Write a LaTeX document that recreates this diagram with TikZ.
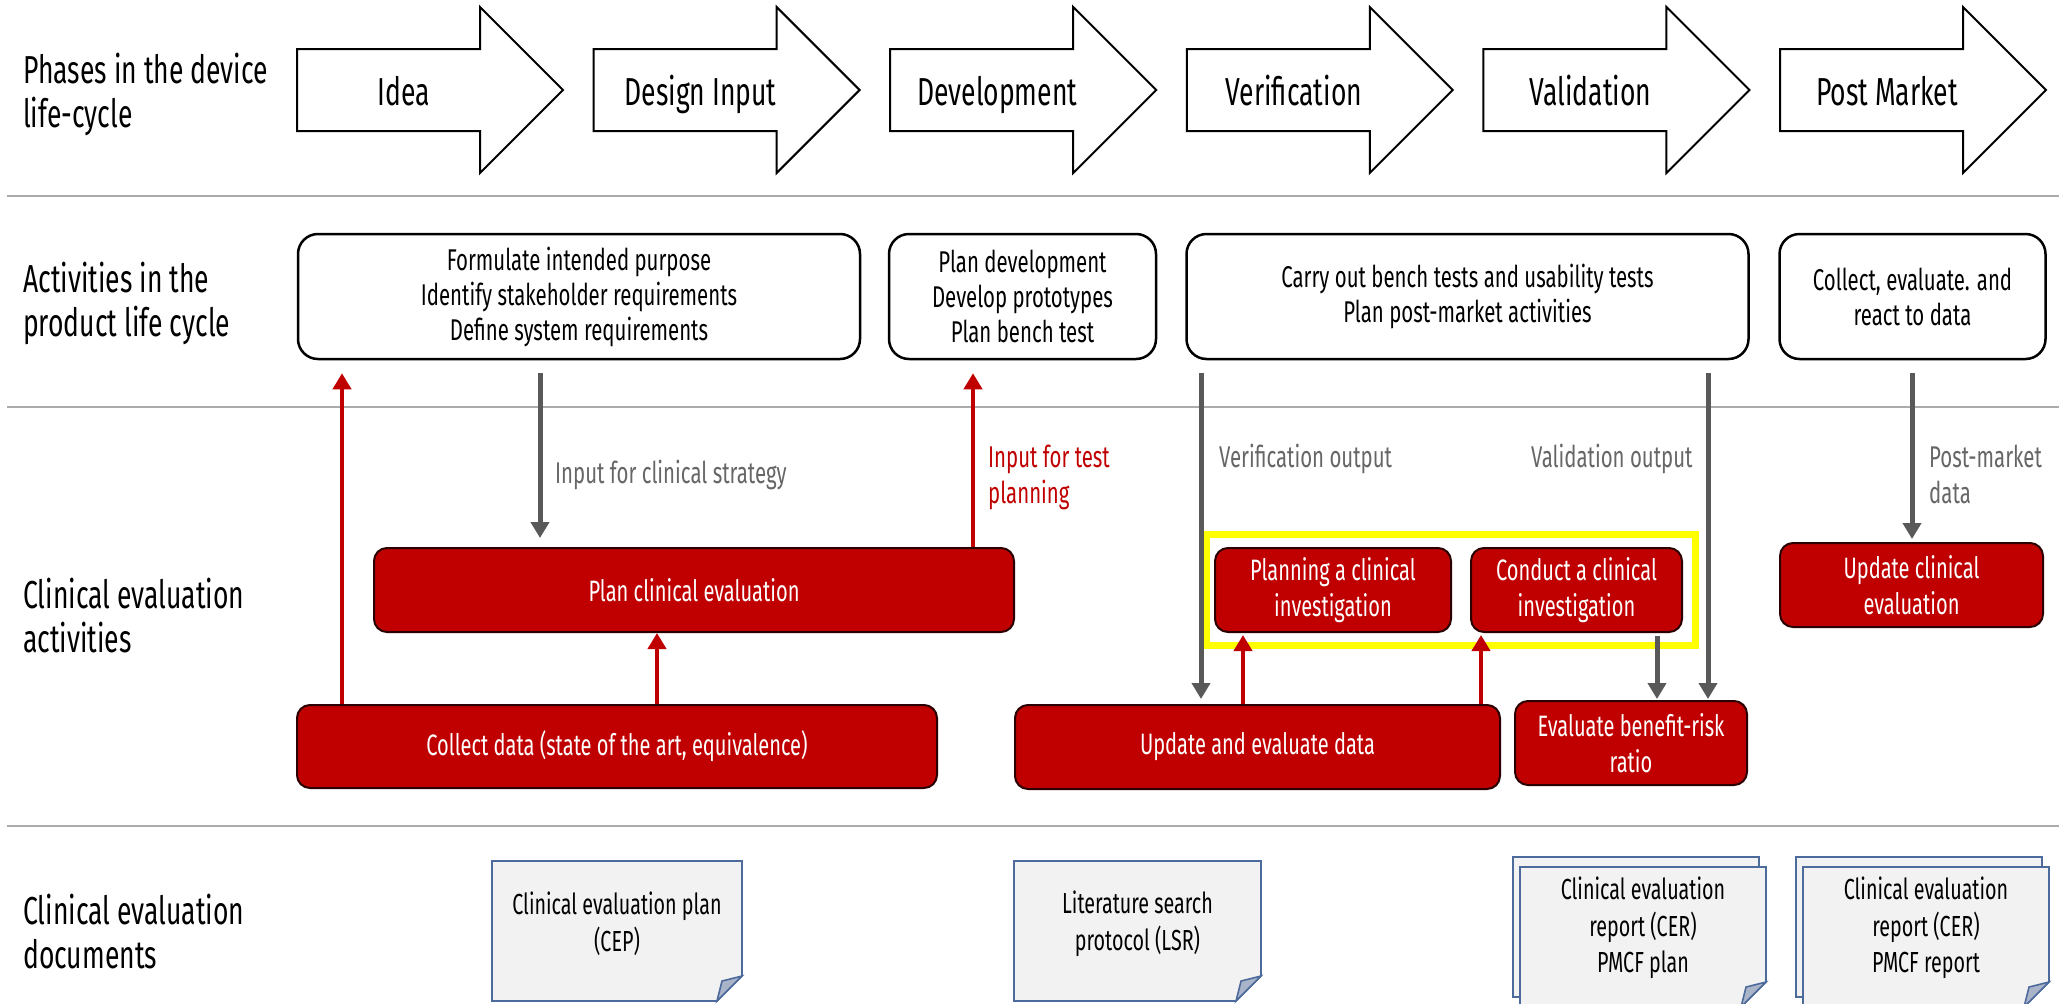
\documentclass[tikz,border=0pt]{standalone}
\usepackage{fontspec}
\setmainfont{Fira Sans}[FakeStretch=0.68]
\usetikzlibrary{arrows.meta,calc}

\definecolor{cered}{HTML}{C00000}
\definecolor{ceedge}{HTML}{2B0000}
\definecolor{flowgray}{HTML}{595959}
\definecolor{labgray}{HTML}{666666}
\definecolor{rulegray}{HTML}{ABABAB}
\definecolor{docedge}{HTML}{4D6A9C}
\definecolor{docfill}{HTML}{F2F2F2}
\definecolor{foldfill}{HTML}{A9B4C8}
\definecolor{hilite}{HTML}{FFFF00}

% folded-corner page: #1 left, #2 top, #3 right, #4 bottom
\newcommand\docsheet[4]{%
  \filldraw[docsheetline] (#1,#2) -- (#3,#2) -- (#3,#4-25) -- (#3-25,#4) -- (#1,#4) -- cycle;
  \filldraw[docsheetline,fill=foldfill] (#3-25,#4) -- (#3-20,#4-20) -- (#3,#4-25) -- cycle;}

\begin{document}
\begin{tikzpicture}[x=1pt,y=-1pt,
  rowlabel/.style={anchor=base west,align=left,inner sep=0,font=\fontsize{39}{44}\selectfont},
  phaseshape/.style={draw=black,line width=2pt,fill=white,line join=miter},
  phasetext/.style={anchor=base,inner sep=0,font=\fontsize{39}{44}\selectfont},
  actbox/.style={draw=black,line width=2.5pt,fill=white,rounded corners=20pt,inner sep=0,
    align=center,font=\fontsize{30}{35}\selectfont},
  cebox/.style={draw=ceedge,line width=2pt,fill=cered,rounded corners=13pt,inner sep=0,
    align=center,text=white,font=\fontsize{29.5}{36}\selectfont},
  doctext/.style={inner sep=0,align=center,font=\fontsize{29}{36.5}\selectfont},
  flowlabel/.style={anchor=west,inner sep=0,align=left,text=labgray,font=\fontsize{30}{36}\selectfont},
  redflow/.style={draw=cered,line width=4pt,-{Triangle[length=16pt,width=18pt]}},
  grayflow/.style={draw=flowgray,line width=5pt,-{Triangle[length=16pt,width=18pt]}},
  rowrule/.style={draw=rulegray,line width=2.5pt},
  docsheetline/.style={draw=docedge,line width=1.6pt,fill=docfill},
]
\useasboundingbox (0,0) rectangle (2059,1004);

% row separators
\draw[rowrule] (7,196) -- (2059,196);
\draw[rowrule] (7,407) -- (2059,407);
\draw[rowrule] (7,826) -- (2059,826);

% row headings (anchored at the baseline of their second line)
\node[rowlabel] (lab1) at (23,127) {Phases in the device\\life-cycle};
\node[rowlabel] (lab2) at (23,336) {Activities in the\\product life cycle};
\node[rowlabel] (lab3) at (23,652) {Clinical evaluation\\activities};
\node[rowlabel] (lab4) at (23,968) {Clinical evaluation\\documents};

% phase arrows
\foreach \i/\t in {0/Idea,1/Design Input,2/Development,3/Verification,4/Validation,5/Post Market}{
  \pgfmathsetmacro\L{297+296.6*\i}
  \draw[phaseshape] (\L,49) -- (\L+183,49) -- (\L+183,7) -- (\L+266,90) -- (\L+183,173)
    -- (\L+183,131) -- (\L,131) -- cycle;
  \node[phasetext] (ph\i) at (\L+107,105) {\t};
}

% product life cycle activities
\node[actbox,minimum width=562pt,minimum height=125pt] (act1) at (579,296.5)
  {Formulate intended purpose\\Identify stakeholder requirements\\Define system requirements};
\node[actbox,minimum width=267pt,minimum height=125pt] (act2) at (1022.5,296.5)
  {Plan development\\Develop prototypes\\Plan bench test};
\node[actbox,minimum width=562pt,minimum height=125pt] (act3) at (1467.5,296.5)
  {Carry out bench tests and usability tests\\Plan post-market activities};
\node[actbox,minimum width=266pt,minimum height=125pt] (act4) at (1912.5,296.5)
  {Collect, evaluate. and\\react to data};

% highlight around the clinical investigation
\draw[hilite,line width=7pt] (1206.5,534.5) rectangle (1695.5,645.5);

% clinical evaluation activities
\node[cebox,minimum width=640pt,minimum height=84pt] (plan) at (694,590) {Plan clinical evaluation};
\node[cebox,minimum width=640pt,minimum height=83pt] (collect) at (617,746.5)
  {Collect data (state of the art, equivalence)};
\node[cebox,minimum width=485pt,minimum height=84pt] (update) at (1257.5,747) {Update and evaluate data};
\node[cebox,minimum width=236pt,minimum height=84pt] (planning) at (1333,590)
  {Planning a clinical\\investigation};
\node[cebox,minimum width=211pt,minimum height=84pt] (conduct) at (1576.5,590)
  {Conduct a clinical\\investigation};
\node[cebox,minimum width=232pt,minimum height=84pt] (benefit) at (1631,743)
  {Evaluate benefit-risk\\ratio};
\node[cebox,minimum width=263pt,minimum height=84pt] (updclin) at (1911.5,585)
  {Update clinical\\evaluation};

% vertical positions of the connectors
\coordinate (xa) at (342,0);
\coordinate (xb) at (540,0);
\coordinate (xc) at (657,0);
\coordinate (xd) at (973,0);
\coordinate (xe) at (1201,0);
\coordinate (xf) at (1243,0);
\coordinate (xg) at (1481,0);
\coordinate (xh) at (1657,0);
\coordinate (xi) at (1708,0);
\coordinate (xj) at (1912,0);

\draw[redflow,shorten >=13pt] (collect.north -| xa) -- (act1.south -| xa);
\draw[grayflow,shorten <=13pt,shorten >=9pt] (act1.south -| xb) -- (plan.north -| xb);
\draw[redflow] (collect.north -| xc) -- (plan.south -| xc);
\draw[redflow,shorten >=13pt] (plan.north -| xd) -- (act2.south -| xd);
\draw[grayflow,shorten <=13pt,shorten >=5pt] (act3.south -| xe) -- (update.north -| xe);
\draw[redflow,shorten >=2pt] (update.north -| xf) -- (planning.south -| xf);
\draw[redflow,shorten >=2pt] (update.north -| xg) -- (conduct.south -| xg);
\draw[grayflow,shorten <=3pt,shorten >=1pt] (conduct.south -| xh) -- (benefit.north -| xh);
\draw[grayflow,shorten <=13pt,shorten >=1pt] (act3.south -| xi) -- (benefit.north -| xi);
\draw[grayflow,shorten <=13pt,shorten >=3pt] (act4.south -| xj) -- (updclin.north -| xj);

% connector captions
\node[flowlabel] (capb) at (555,475) {Input for clinical strategy};
\node[flowlabel,text=cered,anchor=north west] (capd) at (988,445) {Input for test\\planning};
\node[flowlabel] (cape) at (1219,459) {Verification output};
\node[flowlabel] (capi) at (1531,459) {Validation output};
\node[flowlabel,anchor=north west] (capj) at (1929,445) {Post-market\\data};

% clinical evaluation documents
\docsheet{492}{861}{742}{1001}
\node[doctext] (cep) at (617,924) {Clinical evaluation plan\\(CEP)};
\docsheet{1014}{861}{1261}{1001}
\node[doctext] (lsr) at (1137.5,924) {Literature search\\protocol (LSR)};
\docsheet{1513}{857}{1759}{997}
\docsheet{1520}{867}{1766}{1007}
\node[doctext] (cer1) at (1643,928) {Clinical evaluation\\report (CER)\\PMCF plan};
\docsheet{1796}{857}{2042}{997}
\docsheet{1803}{867}{2049}{1007}
\node[doctext] (cer2) at (1926,928) {Clinical evaluation\\report (CER)\\PMCF report};
\end{tikzpicture}
\end{document}
